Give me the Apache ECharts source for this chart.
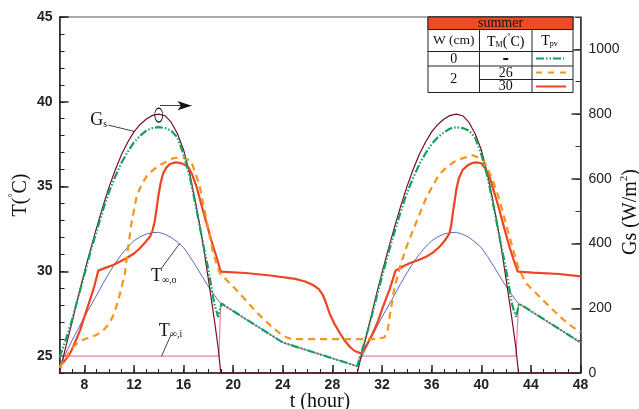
<!DOCTYPE html>
<html><head><meta charset="utf-8">
<script src="https://cdn.jsdelivr.net/npm/echarts@6/dist/echarts.min.js"></script>
<style>html,body{margin:0;padding:0;background:#fff}#c{width:639px;height:409px}</style>
</head><body><div id="c"></div>
<script>
// ---- tick values ----
const xMajorTicks = [8,12,16,20,24,28,32,36,40,44,48];
const tMajorTicks = [25,30,35,40,45];
const gsMajorTicks = [0,200,400,600,800,1000];

// ---- series data: [t (hour), value] ----
const gsData = [[6,0],[6.5,80],[7,155],[7.5,235],[8,310],[8.5,382],[9,450],[9.5,515],[10,575],[10.5,628],[11,675],[11.5,713],[12,745],[12.5,768],[13,785],[13.5,796],[14,800],[14.5,795],[15,775],[15.5,740],[16,690],[16.5,615],[17,520],[17.5,415],[18,290],[18.5,160],[18.8,75],[19,0],[30,0],[30.5,80],[31,155],[31.5,235],[32,310],[32.5,382],[33,450],[33.5,515],[34,575],[34.5,628],[35,675],[35.5,713],[36,745],[36.5,768],[37,785],[37.5,796],[38,800],[38.5,795],[39,775],[39.5,740],[40,690],[40.5,615],[41,520],[41.5,415],[42,290],[42.5,160],[42.8,75],[43,0],[48,0]];
const tOutData = [[6,24.4],[6.5,25.15],[7,25.9],[7.5,26.6],[8,27.3],[8.5,27.95],[9,28.6],[9.5,29.27],[10,29.9],[10.5,30.48],[11,31.0],[11.5,31.43],[12,31.8],[12.5,32.03],[13,32.2],[13.5,32.28],[14,32.3],[14.5,32.18],[15,32.0],[15.5,31.73],[16,31.4],[16.5,30.88],[17,30.3],[17.5,29.7],[18,29.1],[18.5,28.58],[19,28.1],[24,25.8],[30,24.4],[30.5,25.15],[31,25.9],[31.5,26.6],[32,27.3],[32.5,27.95],[33,28.6],[33.5,29.27],[34,29.9],[34.5,30.48],[35,31.0],[35.5,31.43],[36,31.8],[36.5,32.03],[37,32.2],[37.5,32.28],[38,32.3],[38.5,32.18],[39,32.0],[39.5,31.73],[40,31.4],[40.5,30.88],[41,30.3],[41.5,29.7],[42,29.1],[42.5,28.58],[43,28.1],[48,25.8]];
const tInData = [[6,25],[18.85,25],[19,28.1],[24,25.8],[30,24.4],[30.2,25],[42.8,25],[43,28.1],[48,25.8]];
const pvW0Data = [[6,24.9],[6.5,25.95],[7,27.1],[7.5,28.45],[8,29.8],[8.5,31.15],[9,32.4],[9.5,33.6],[10,34.7],[10.5,35.6],[11,36.4],[11.5,37.05],[12,37.6],[12.5,38.0],[13,38.3],[13.5,38.45],[14,38.5],[14.5,38.45],[15,38.3],[15.5,37.9],[16,36.9],[16.5,35.6],[17,33.8],[17.5,31.9],[18,30.1],[18.5,28.0],[18.8,27.3],[19.05,28.1],[24,25.8],[30,24.4],[30.5,25.6],[31,26.9],[31.5,28.3],[32,29.7],[32.5,31.05],[33,32.3],[33.5,33.5],[34,34.6],[34.5,35.5],[35,36.3],[35.5,36.95],[36,37.5],[36.5,37.9],[37,38.2],[37.5,38.42],[38,38.5],[38.5,38.45],[39,38.3],[39.5,37.9],[40,36.9],[40.5,35.6],[41,33.8],[41.5,31.9],[42,30.1],[42.5,28.0],[42.8,27.3],[43.05,28.1],[48,25.8]];
const pv26Data = [[6,24.3],[6.5,24.9],[7,25.45],[7.5,25.8],[8,26.0],[8.5,26.1],[9,26.25],[9.5,26.5],[10,26.9],[10.4,27.5],[10.7,28.2],[11,29.0],[11.27,29.9],[11.54,31.45],[11.81,32.85],[12.21,34.4],[12.6,35.1],[13.02,35.6],[13.5,35.95],[14.09,36.27],[15.17,36.67],[15.97,36.73],[16.64,36.47],[17.31,35.0],[17.85,33.03],[18.39,31.06],[18.92,29.9],[20,29.1],[21,28.3],[22,27.5],[23,26.8],[24,26.2],[24.7,26.0],[31.5,26.0],[32.2,26.1],[32.45,26.5],[32.65,27.5],[33.0,29.0],[33.5,30.4],[34,31.5],[34.6,32.6],[35.6,34.4],[36.6,35.7],[37.3,36.2],[38,36.55],[39.3,36.85],[40.1,36.6],[40.5,36.1],[40.9,35.4],[41.3,34.6],[41.7,33.6],[42.1,32.5],[42.5,31.45],[43,30.2],[43.6,29.3],[44.7,28.5],[45.8,27.7],[47,26.9],[48,26.4]];
const pv30Data = [[6,24.37],[6.5,24.8],[6.85,25.16],[7.25,25.8],[7.65,26.5],[8.05,27.4],[8.45,28.3],[8.8,29.1],[9.13,30.04],[9.7,30.2],[10.33,30.37],[11.4,30.77],[12,31.05],[12.48,31.36],[12.9,31.7],[13.29,32.04],[13.5,32.4],[13.69,33.0],[13.83,33.7],[13.96,34.4],[14.15,35.2],[14.36,35.78],[14.6,36.1],[14.9,36.33],[15.3,36.42],[15.7,36.4],[16.05,36.3],[16.37,36.17],[16.7,35.7],[17.04,35.0],[17.45,33.9],[17.85,32.84],[18.25,31.8],[18.65,30.86],[19.0,29.98],[21,29.9],[23,29.75],[25,29.55],[25.8,29.4],[26.44,29.19],[26.9,28.95],[27.24,28.6],[27.5,28.1],[27.78,27.5],[28.2,26.85],[28.6,26.36],[29.0,25.9],[29.4,25.55],[29.8,25.3],[30.33,25.15],[30.8,25.7],[31.27,26.36],[31.7,27.1],[32.07,27.9],[32.6,28.9],[33.09,30.04],[33.6,30.25],[34.22,30.47],[35.0,30.68],[35.56,30.86],[36.1,31.1],[36.64,31.45],[37.1,31.85],[37.44,32.24],[37.6,32.8],[37.7,33.42],[37.85,34.1],[37.98,34.8],[38.2,35.5],[38.5,35.98],[38.9,36.25],[39.32,36.4],[39.7,36.42],[39.99,36.37],[40.3,36.1],[40.66,35.58],[41.07,34.6],[41.47,33.6],[41.87,32.5],[42.27,31.45],[42.6,30.7],[42.94,29.98],[44.15,29.92],[46.3,29.84],[48,29.7]];

const SANS = '"Liberation Sans", Arial, sans-serif';
const SERIF = '"Liberation Serif", "Times New Roman", serif';
const C = {gs:'#7a0c24', out:'#5a6abf', inn:'#f07ab0', w0:'#12a05c', m26:'#f7941d', m30:'#ef4423', head:'#ef4b24'};

const chart = echarts.init(document.getElementById('c'), null, {renderer:'canvas'});
const axisCol = '#222';
const richMain = {
  a:{fontFamily:SERIF, fontSize:18, color:'#111', verticalAlign:'bottom', lineHeight:20},
  b:{fontFamily:SERIF, fontSize:10, color:'#111', verticalAlign:'bottom', lineHeight:14}
};
function textMark(coord, str){
  return {coord:coord, symbol:'rect', symbolSize:1, itemStyle:{color:'rgba(0,0,0,0)'},
    label:{show:true, position:'inside', formatter:str, rich:richMain}};
}
const leader = {color:'#111', width:0.8, type:'solid'};

const T = {x0:428, x1:479.5, x2:532, x3:573, y0:17, y1:29.5, y2:51.5, y3:66, y4:79.5, y5:92.5};
function hl(y,xa,xb){return {type:'line', shape:{x1:xa,y1:y,x2:xb,y2:y}, style:{stroke:'#222', lineWidth:1}, z:101};}
function vl(x,ya,yb){return {type:'line', shape:{x1:x,y1:ya,x2:x,y2:yb}, style:{stroke:'#222', lineWidth:1}, z:101};}
function txt(x,y,s,size){
  return {type:'text', z:102, style:{text:s, x:x, y:y, fill:'#111', font:(size||13)+'px '+SERIF,
    align:'center', verticalAlign:'middle', textAlign:'center', textVerticalAlign:'middle'}};
}
const rt = {
  t:{fontFamily:SERIF, fontSize:14, color:'#111', verticalAlign:'bottom', lineHeight:16},
  sub:{fontFamily:SERIF, fontSize:8, color:'#111', verticalAlign:'bottom', lineHeight:12},
  sup:{fontFamily:SERIF, fontSize:8, color:'#111', verticalAlign:'top', lineHeight:16}
};
const graphics = [
  {type:'rect', z:100, shape:{x:T.x0, y:T.y0, width:T.x3-T.x0, height:T.y5-T.y0}, style:{fill:'#fff', stroke:'#222', lineWidth:1}},
  {type:'rect', z:100, shape:{x:T.x0, y:T.y0, width:T.x3-T.x0, height:T.y1-T.y0}, style:{fill:C.head, stroke:'#222', lineWidth:1}},
  hl(T.y2,T.x0,T.x3), hl(T.y3,T.x0,T.x3), hl(T.y4,T.x1,T.x3),
  vl(T.x1,T.y1,T.y5), vl(T.x2,T.y1,T.y5),
  txt((T.x0+T.x3)/2, 23.8, 'summer', 14),
  txt((T.x0+T.x1)/2, 40.5, 'W (cm)', 13.5),
  {type:'text', z:102, style:{text:'{t|T}{sub|M}{t|(}{sup|°}{t|C)}', rich:rt, x:(T.x1+T.x2)/2, y:41, align:'center', verticalAlign:'middle', textAlign:'center', textVerticalAlign:'middle'}},
  {type:'text', z:102, style:{text:'{t|T}{sub|pv}', rich:rt, x:(T.x2+T.x3)/2 - 3, y:40, align:'center', verticalAlign:'middle', textAlign:'center', textVerticalAlign:'middle'}},
  txt((T.x0+T.x1)/2, 59, '0', 14),
  {type:'line', z:102, shape:{x1:(T.x1+T.x2)/2-2.5, y1:59, x2:(T.x1+T.x2)/2+2.5, y2:59}, style:{stroke:'#111', lineWidth:2}},
  txt((T.x0+T.x1)/2, 79.5, '2', 14),
  txt((T.x1+T.x2)/2, 73, '26', 14),
  txt((T.x1+T.x2)/2, 86.3, '30', 14),
  {type:'line', z:102, shape:{x1:536, y1:58.5, x2:564, y2:58.5}, style:{stroke:C.w0, lineWidth:2, lineDash:[8,2,1.5,2,1.5,2]}},
  {type:'line', z:102, shape:{x1:536, y1:72.5, x2:566, y2:72.5}, style:{stroke:C.m26, lineWidth:2, lineDash:[6,6]}},
  {type:'line', z:102, shape:{x1:536, y1:86.5, x2:566, y2:86.5}, style:{stroke:C.m30, lineWidth:2}}
];

const tickLabel = {fontFamily:SANS, fontWeight:'bold', fontSize:14, color:'#222'};
const option = {
  animation:false,
  backgroundColor:'#fff',
  grid:{left:59.5, right:58.5, top:17, bottom:36, containLabel:false, outerBoundsMode:'none',
        show:true, borderColor:'#555', borderWidth:1, backgroundColor:'transparent'},
  xAxis:[
    {type:'value', min:6, max:48, interval:1, position:'bottom',
     axisLine:{onZero:false, lineStyle:{color:axisCol, width:1.5}},
     axisTick:{inside:true, length:4, lineStyle:{color:axisCol, width:1}},
     axisLabel:Object.assign({margin:5, formatter:v => (xMajorTicks.indexOf(v) >= 0 ? String(v) : '')}, tickLabel),
     splitLine:{show:false},
     name:'t (hour)', nameLocation:'middle', nameGap:19, nameMoveOverlap:false,
     nameTextStyle:{fontFamily:SERIF, fontSize:20, color:'#111', verticalAlign:'top'}},
    {type:'value', min:6, max:48, position:'bottom', offset:0,
     axisLine:{show:false, onZero:false},
     axisTick:{inside:true, length:8, customValues:xMajorTicks, lineStyle:{color:axisCol, width:1.5}},
     axisLabel:{show:false}, splitLine:{show:false}}
  ],
  yAxis:[
    {type:'value', min:24, max:45, interval:1, position:'left',
     axisLine:{onZero:false, lineStyle:{color:axisCol, width:1.5}},
     axisTick:{inside:true, length:5, lineStyle:{color:axisCol, width:1}},
     axisLabel:Object.assign({margin:7, formatter:v => (tMajorTicks.indexOf(v) >= 0 ? String(v) : '')}, tickLabel),
     splitLine:{show:false},
     name:'{a|T(}{s|°}{a|C)}', nameLocation:'middle', nameGap:29, nameRotate:90, nameMoveOverlap:false,
     nameTextStyle:{rich:{a:{fontFamily:SERIF, fontSize:20, color:'#111', verticalAlign:'bottom', lineHeight:22}, s:{fontFamily:SERIF, fontSize:10, color:'#111', verticalAlign:'top', lineHeight:22}}}},
    {type:'value', min:24, max:45, position:'left', offset:0,
     axisLine:{show:false, onZero:false},
     axisTick:{inside:true, length:9, customValues:tMajorTicks, lineStyle:{color:axisCol, width:1.5}},
     axisLabel:{show:false}, splitLine:{show:false}},
    {type:'value', min:0, max:1100, interval:100, position:'right',
     axisLine:{onZero:false, lineStyle:{color:'#333', width:1.5}},
     axisTick:{inside:true, length:5, lineStyle:{color:'#333', width:1}},
     axisLabel:{margin:8, fontFamily:SANS, fontSize:14, color:'#222', formatter:v => (gsMajorTicks.indexOf(v) >= 0 ? String(v) : '')},
     splitLine:{show:false},
     name:'{a|Gs (W/m}{s|2}{a|)}', nameLocation:'middle', nameGap:38, nameRotate:90, nameMoveOverlap:false,
     nameTextStyle:{padding:[0,34,0,0], rich:{a:{fontFamily:SERIF, fontSize:20, color:'#111', verticalAlign:'bottom', lineHeight:22}, s:{fontFamily:SERIF, fontSize:11, color:'#111', verticalAlign:'top', lineHeight:22}}}},
    {type:'value', min:0, max:1100, position:'right', offset:0,
     axisLine:{show:false, onZero:false},
     axisTick:{inside:true, length:9, customValues:gsMajorTicks, lineStyle:{color:'#333', width:1.5}},
     axisLabel:{show:false}, splitLine:{show:false}}
  ],
  series:[
    {name:'Tout', type:'line', xAxisIndex:0, yAxisIndex:0, data:tOutData, showSymbol:false,
     lineStyle:{color:C.out, width:1}, z:2,
     markLine:{silent:true, symbol:['none','none'], label:{show:false}, lineStyle:leader, data:[[{coord:[14.23,30.19]},{coord:[15.7,31.65]}]]},
     markPoint:{silent:true, data:[textMark([14.4,29.75], '{a|T}{b|∞,o}')]}},
    {name:'Tin', type:'line', xAxisIndex:0, yAxisIndex:0, data:tInData, showSymbol:false,
     lineStyle:{color:C.inn, width:1.2}, z:3,
     markLine:{silent:true, symbol:['none','none'], label:{show:false}, lineStyle:leader, data:[[{coord:[14.98,26.24]},{coord:[14.23,25.0]}]]},
     markPoint:{silent:true, data:[textMark([14.95,26.55], '{a|T}{b|∞,i}')]}},
    {name:'Gs', type:'line', xAxisIndex:0, yAxisIndex:2, data:gsData, showSymbol:false,
     lineStyle:{color:C.gs, width:1.2}, z:4,
     markLine:{silent:true, symbol:['none','none'], label:{show:false}, lineStyle:leader,
       data:[[{coord:[9.93,766]},{coord:[12.08,746]}],
             [{coord:[14.1,826]},{coord:[16.64,826], symbol:'arrow', symbolSize:[7,14]}]]},
     markPoint:{silent:true, data:[
       {coord:[14.0,797], symbol:'circle', symbolSize:[8,14], itemStyle:{color:'rgba(0,0,0,0)', borderColor:'#111', borderWidth:1}, label:{show:false}},
       textMark([9.15,785], '{a|G}{b|s}')]}},
    {name:'W2 TM30', type:'line', xAxisIndex:0, yAxisIndex:0, data:pv30Data, showSymbol:false,
     lineStyle:{color:C.m30, width:2.2}, z:5},
    {name:'W2 TM26', type:'line', xAxisIndex:0, yAxisIndex:0, data:pv26Data, showSymbol:false,
     lineStyle:{color:C.m26, width:2.2, type:[7,5]}, z:6},
    {name:'W0', type:'line', xAxisIndex:0, yAxisIndex:0, data:pvW0Data, showSymbol:false,
     lineStyle:{color:C.w0, width:2.2, type:[8,2,1.5,2,1.5,2]}, z:7}
  ],
  graphic:{elements:graphics}
};
chart.setOption(option);
</script></body></html>
